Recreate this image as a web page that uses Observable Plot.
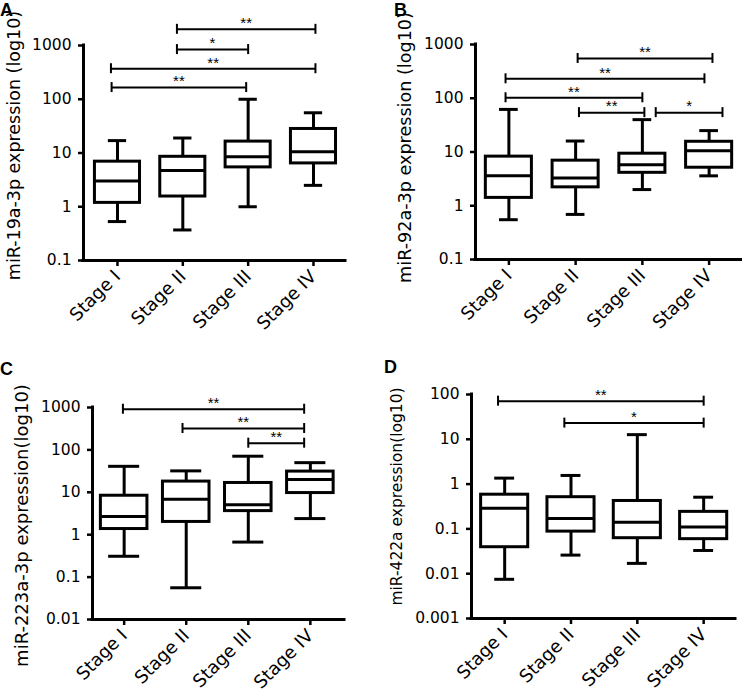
<!DOCTYPE html>
<html><head><meta charset="utf-8">
<script src="https://cdn.jsdelivr.net/npm/d3@7"></script>
<script src="https://cdn.jsdelivr.net/npm/@observablehq/plot@0.6"></script>
<style>
body{margin:0;background:#fff;}
#root{position:relative;width:742px;height:698px;font-family:"Liberation Sans",Arial,Helvetica,sans-serif;color:#000;}
.panel{position:absolute;width:371px;height:349px;}
.panel svg{position:absolute;left:0;top:0;}
.letter{position:absolute;font-weight:bold;font-size:18px;line-height:20px;z-index:2;}
</style></head><body><div id="root"></div>
<script>
// ---- data ----
const stages = ["Stage I", "Stage II", "Stage III", "Stage IV"];

// five-number summaries per stage: [min, q1, median, q3, max]
const statsA = [[0.53, 1.18, 3.0, 6.9, 17], [0.37, 1.55, 4.7, 8.5, 19], [1.0, 5.4, 8.5, 16.3, 100], [2.5, 6.4, 10.5, 28, 56]];
const statsB = [[0.55, 1.4, 3.6, 8.2, 62], [0.69, 2.2, 3.3, 6.9, 16], [2.0, 4.1, 5.8, 9.3, 40], [3.6, 5.1, 10.5, 15.5, 25]];
const statsC = [[0.31, 1.36, 2.7, 8.3, 41], [0.056, 2.0, 6.9, 17.9, 32], [0.67, 3.6, 5.1, 16.6, 71], [2.4, 9.6, 20, 30.8, 50]];
const statsD = [[0.0075, 0.039, 0.29, 0.58, 1.36], [0.026, 0.087, 0.17, 0.51, 1.56], [0.017, 0.062, 0.14, 0.42, 12.7], [0.033, 0.059, 0.11, 0.24, 0.51]];

// significance brackets: [from, to, height (data units), label]
const bracketsA = [["Stage II", "Stage IV", 2000, "**"], ["Stage II", "Stage III", 840, "*"], ["Stage I", "Stage IV", 370, "**"], ["Stage I", "Stage III", 165, "**"]];
const bracketsB = [["Stage II", "Stage IV", 550, "**"], ["Stage I", "Stage IV", 230, "**"], ["Stage I", "Stage III", 102, "**"], ["Stage II", "Stage III", 54, "**"], ["Stage III", "Stage IV", 54, "*"]];
const bracketsC = [["Stage I", "Stage IV", 910, "**"], ["Stage II", "Stage IV", 320, "**"], ["Stage III", "Stage IV", 144, "**"]];
const bracketsD = [["Stage I", "Stage IV", 71, "**"], ["Stage II", "Stage IV", 23, "*"]];

// y tick values and labels
const yTicksAB = [0.1, 1, 10, 100, 1000];
const yLabelsAB = ["0.1", "1", "10", "100", "1000"];
const yTicksC = [0.01, 0.1, 1, 10, 100, 1000];
const yLabelsC = ["0.01", "0.1", "1", "10", "100", "1000"];
const yTicksD = [0.001, 0.01, 0.1, 1, 10, 100];
const yLabelsD = ["0.001", "0.01", "0.1", "1", "10", "100"];

const titles = ["miR-19a-3p expression (log10)", "miR-92a-3p expression (log10)", "miR-223a-3p expression(log10)", "miR-422a expression(log10)"];
const letters = ["A", "B", "C", "D"];

// ---- layout (positions/styles) ----
const layouts = [
  {left: 0, top: 0, mL: 83, mR: 26, mT: 45, mB: 89, xDomain: [-0.52, 3.49], boxHalf: 0.345, capHalf: 0.14,
   titleX: 13.5, titleDy: -7.5, titleSize: 17.5, letter: [0, 0],
   nudges: [[-0.09, 0.03], [-0.09, 0], [-0.1, 0.03], [-0.09, -0.03]]},
  {left: 371, top: 0, mL: 104, mR: 0, mT: 44, mB: 90, xDomain: [-0.5, 3.5], boxHalf: 0.345, capHalf: 0.14,
   titleX: 33.5, titleDy: -4.5, titleSize: 17.6, letter: [23, 0],
   nudges: [[0.03, 0.05], [-0.05, -0.07], [-0.05, 0], [0.05, 0.03], [0.2, 0.2]]},
  {left: 0, top: 349, mL: 92, mR: 27, mT: 58, mB: 79, xDomain: [-0.51, 3.55], boxHalf: 0.375, capHalf: 0.25,
   titleX: 22, titleDy: 12, titleSize: 18, letter: [0, 10],
   nudges: [[-0.02, -0.1], [-0.06, -0.1], [0, -0.1]]},
  {left: 371, top: 349, mL: 100, mR: 7, mT: 45, mB: 80, xDomain: [-0.5, 3.48], boxHalf: 0.355, capHalf: 0.15,
   titleX: 25.5, titleDy: -10, titleSize: 15.5, letter: [13, 8],
   nudges: [[-0.1, 0], [-0.1, 0]]}
];

const panels = [
  [statsA, bracketsA, yTicksAB, yLabelsAB],
  [statsB, bracketsB, yTicksAB, yLabelsAB],
  [statsC, bracketsC, yTicksC, yLabelsC],
  [statsD, bracketsD, yTicksD, yLabelsD]
];

const axisFont = '"DejaVu Sans", Verdana, sans-serif';

function makePlot(stats, brackets, yTicks, yLabels, title, L) {
  const rows = stages.map((s, i) => ({i, min: stats[i][0], q1: stats[i][1], med: stats[i][2], q3: stats[i][3], max: stats[i][4]}));
  const br = brackets.map((b, k) => ({
    x1: stages.indexOf(b[0]) + L.nudges[k][0],
    x2: stages.indexOf(b[1]) + L.nudges[k][1],
    y: b[2], label: b[3]
  }));
  const ends = br.flatMap(b => [{x: b.x1, y: b.y}, {x: b.x2, y: b.y}]);
  const y0 = yTicks[0], y1 = yTicks[yTicks.length - 1];
  const hw = L.boxHalf, cw = L.capHalf;
  const lw = 3;
  return Plot.plot({
    width: 371, height: 349,
    marginLeft: L.mL, marginRight: L.mR, marginTop: L.mT, marginBottom: L.mB,
    style: {fontFamily: '"Liberation Sans", Arial, Helvetica, sans-serif', fontSize: "16px", background: "transparent", overflow: "visible", color: "#000"},
    x: {type: "linear", domain: L.xDomain},
    y: {type: "log", domain: [y0, y1]},
    marks: [
      Plot.axisY({ticks: yTicks, tickFormat: (d) => yLabels[yTicks.indexOf(d)], tickSize: 5, tickPadding: 7, strokeWidth: 2.5,
        fontFamily: axisFont, fontSize: 15.5, label: null}),
      Plot.axisX({ticks: stages.map((s, i) => i), tickFormat: (i) => stages[i], tickRotate: -45, tickSize: 6, tickPadding: 7, strokeWidth: 2.5,
        fontFamily: axisFont, fontSize: 18, label: null}),
      // y-axis title
      Plot.text([title], {frameAnchor: "left", text: (d) => d, rotate: -90, dx: L.titleX - L.mL, dy: L.titleDy,
        textAnchor: "middle", lineAnchor: "middle", fontFamily: axisFont, fontSize: L.titleSize}),
      // axis lines
      Plot.ruleX([L.xDomain[0]], {x: (d) => d, y1: y0, y2: y1, strokeWidth: lw, strokeLinecap: "square"}),
      Plot.ruleY([y0], {y: (d) => d, x1: L.xDomain[0], x2: L.xDomain[1], strokeWidth: lw, strokeLinecap: "square"}),
      // whiskers
      Plot.ruleX(rows, {x: "i", y1: "min", y2: "q1", strokeWidth: lw}),
      Plot.ruleX(rows, {x: "i", y1: "q3", y2: "max", strokeWidth: lw}),
      Plot.ruleY(rows, {y: "min", x1: (d) => d.i - cw, x2: (d) => d.i + cw, strokeWidth: lw}),
      Plot.ruleY(rows, {y: "max", x1: (d) => d.i - cw, x2: (d) => d.i + cw, strokeWidth: lw}),
      // boxes
      Plot.rect(rows, {x1: (d) => d.i - hw, x2: (d) => d.i + hw, y1: "q1", y2: "q3", fill: "white", stroke: "black", strokeWidth: lw}),
      Plot.ruleY(rows, {y: "med", x1: (d) => d.i - hw, x2: (d) => d.i + hw, strokeWidth: lw}),
      // significance brackets
      Plot.ruleY(br, {y: "y", x1: "x1", x2: "x2", strokeWidth: 2}),
      Plot.ruleX(ends, {x: "x", y1: "y", y2: "y", insetTop: -5, insetBottom: -5, strokeWidth: 2}),
      Plot.text(br, {x: (d) => (d.x1 + d.x2) / 2, y: "y", text: "label", dy: -6, fontSize: 15})
    ]
  });
}

const root = document.getElementById("root");
panels.forEach(([stats, brackets, yTicks, yLabels], k) => {
  const L = layouts[k];
  const div = document.createElement("div");
  div.className = "panel";
  div.style.left = L.left + "px";
  div.style.top = L.top + "px";
  const letter = document.createElement("div");
  letter.className = "letter";
  letter.textContent = letters[k];
  letter.style.left = L.letter[0] + "px";
  letter.style.top = L.letter[1] + "px";
  div.appendChild(makePlot(stats, brackets, yTicks, yLabels, titles[k], L));
  div.appendChild(letter);
  root.appendChild(div);
});
</script>
</body></html>
